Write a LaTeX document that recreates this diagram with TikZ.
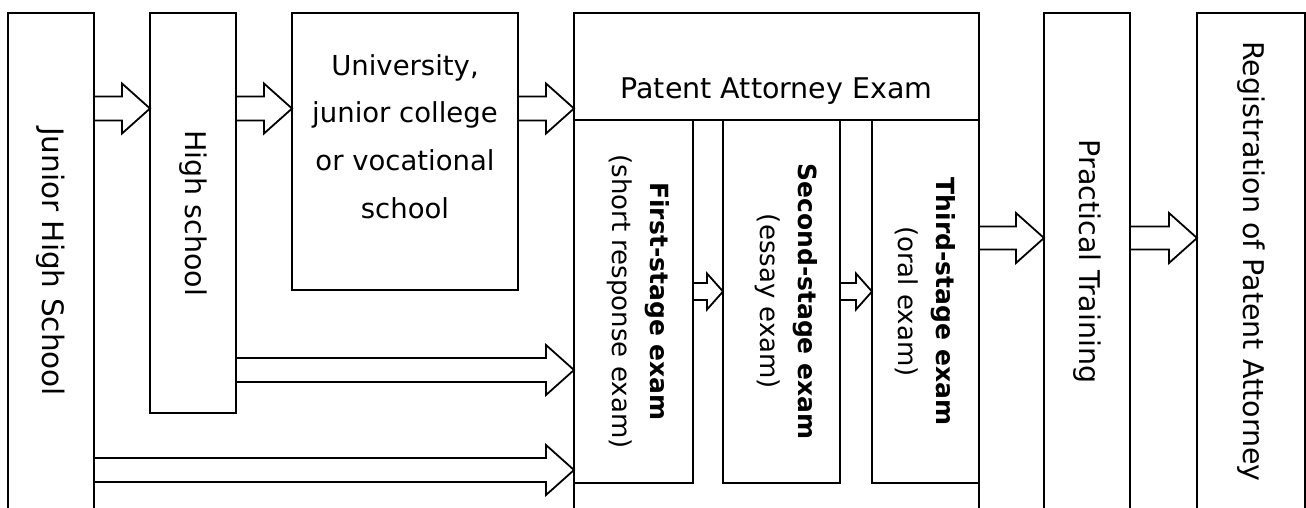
\documentclass[tikz,border=0pt]{standalone}
\usepackage{fontspec}
\setmainfont{DejaVu Sans}
\usetikzlibrary{calc}
\newcommand{\barrow}[6]{%
  \coordinate (by) at (0,#3);
  \coordinate (bs) at (#1.east |- by);
  \coordinate (bt) at (#2.west |- by);
  \draw[arr] ($(bs)+(0,-#4)$) -- ($(bt)+(-#6,-#4)$) -- ($(bt)+(-#6,-#5)$) -- (bt)
    -- ($(bt)+(-#6,#5)$) -- ($(bt)+(-#6,#4)$) -- ($(bs)+(0,#4)$);}
\begin{document}
\begin{tikzpicture}[x=1pt,y=-1pt,
  box/.style={draw=black, line width=1.8pt, inner sep=0pt, outer sep=0pt, anchor=north west},
  lbl/.style={inner sep=0pt, font=\fontsize{28.5}{34}\selectfont},
  vlbl/.style={lbl, rotate=-90},
  sublbl/.style={vlbl, align=center, font=\fontsize{26}{38}\selectfont},
  arr/.style={draw=black, line width=1.8pt, line join=miter},
]
\fill[white] (0,0) rectangle (1306,507);
\useasboundingbox (0,0) rectangle (1306,507);
\clip (0,0) rectangle (1306,507);
% boxes
\node[box, minimum width=86pt, minimum height=497pt] (jh) at (8,13) {};
\node[box, minimum width=86pt, minimum height=400pt] (hs) at (150,13) {};
\node[box, minimum width=226pt, minimum height=277pt] (uni) at (292,13) {};
\node[box, minimum width=405pt, minimum height=497pt] (pat) at (574,13) {};
\node[box, minimum width=405pt, minimum height=107pt] (pathead) at (574,13) {};
\node[box, minimum width=119pt, minimum height=363pt] (s1) at (574,120) {};
\node[box, minimum width=117pt, minimum height=363pt] (s2) at (723,120) {};
\node[box, minimum width=107pt, minimum height=363pt] (s3) at (872,120) {};
\node[box, minimum width=86pt, minimum height=497pt] (pt) at (1044,13) {};
\node[box, minimum width=108pt, minimum height=497pt] (reg) at (1197,13) {};
% labels
\node[vlbl, font=\fontsize{29.5}{34}\selectfont] (tjh) at (jh.center) {Junior High School};
\node[vlbl] (ths) at (hs.center) {High school};
\node[lbl, align=center, font=\fontsize{27.5}{47.7}\selectfont] (tuni) at (405,136.5)
  {University,\\junior college\\or vocational\\school};
\coordinate (pby) at (0,98);
\node[lbl, anchor=base] (tpat) at (pathead.center |- pby) {Patent Attorney Exam};
\node[sublbl] (ts1) at ($(s1.center)+(5,0)$) {{\bfseries\fontsize{25}{38}\selectfont First-stage exam}\\(short response exam)};
\node[sublbl] (ts2) at ($(s2.center)+(5,0)$) {{\bfseries\fontsize{25}{38}\selectfont Second-stage exam}\\(essay exam)};
\node[sublbl] (ts3) at (s3.center) {{\bfseries\fontsize{25}{38}\selectfont Third-stage exam}\\(oral exam)};
\node[vlbl] (tpt) at (pt.center) {Practical Training};
\node[vlbl] (treg) at (reg.center) {Registration of Patent Attorney};
% arrows
\barrow{jh}{hs}{108.5}{12}{25}{28}
\barrow{hs}{uni}{108.5}{12}{25}{28}
\barrow{uni}{pat}{108.5}{12}{25}{28}
\barrow{hs}{s1}{370}{12}{25}{28}
\barrow{jh}{s1}{470}{12}{25}{28}
\barrow{s1}{s2}{291.5}{8.5}{18}{16}
\barrow{s2}{s3}{291.5}{8.5}{18}{16}
\barrow{s3}{pt}{238}{11.5}{25}{28}
\barrow{pt}{reg}{238}{11.5}{25}{28}
\end{tikzpicture}
\end{document}
